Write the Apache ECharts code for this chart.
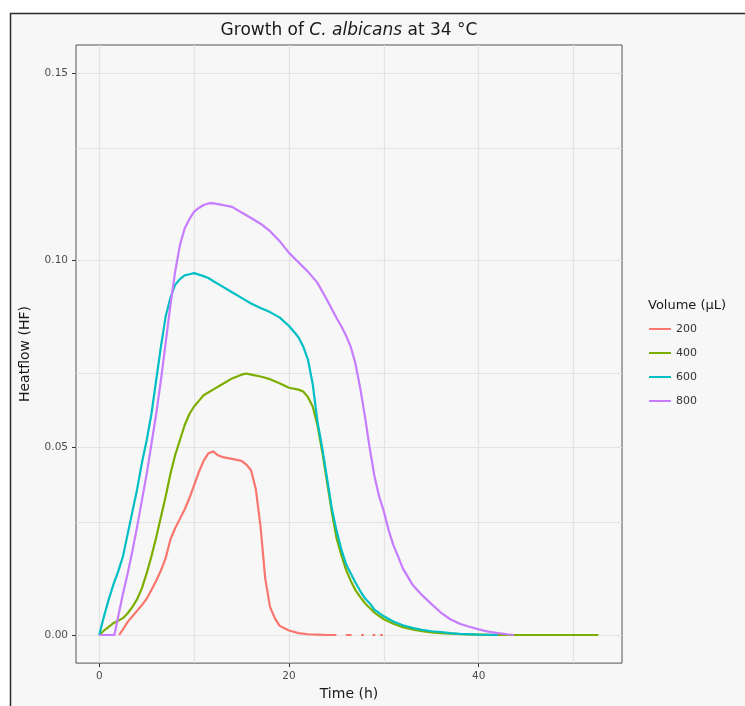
<!DOCTYPE html>
<html>
<head>
<meta charset="utf-8">
<script src="https://cdn.jsdelivr.net/npm/echarts@6/dist/echarts.min.js"></script>
<style>
html,body{margin:0;padding:0;background:#ffffff;}
#chart{width:745px;height:706px;}
</style>
</head>
<body>
<div id="chart"></div>
<script>
// ---- data ----
const volumes = ['200', '400', '600', '800'];
const colors = ['#F8766D', '#7CAE00', '#00BFC4', '#C77CFF'];

const xTickLabels = [0, 20, 40];
const yTickLabels = [0, 0.05, 0.10, 0.15];
const xGridValues = [0, 10, 20, 30, 40, 50];
const yGridValues = [0, 0.025, 0.05, 0.075, 0.10, 0.125, 0.15];

const t200 = [2.1, 2.5, 3.0, 3.5, 4.0, 4.5, 5.0, 5.5, 6.0, 6.5, 7.0, 7.5, 8.0, 8.5, 9.0, 9.5, 10, 10.5, 11, 11.5, 12, 12.5, 13, 14, 15, 15.5, 16, 16.5, 17, 17.5, 18, 18.5, 19, 19.5, 20, 21, 22, 23, 24, 25, 25.5, 26, 26.6, 26.8, 27.6, 27.9, 28.2, 28.8, 29.1, 29.3, 29.6, 29.9];
const hf200 = [0, 0.0015, 0.0035, 0.005, 0.0065, 0.008, 0.0097, 0.012, 0.0145, 0.0172, 0.0205, 0.0255, 0.0285, 0.031, 0.0335, 0.0365, 0.040, 0.0435, 0.0465, 0.0485, 0.049, 0.048, 0.0475, 0.047, 0.0465, 0.0455, 0.044, 0.039, 0.029, 0.015, 0.0075, 0.0045, 0.0025, 0.0018, 0.0012, 0.0005, 0.0002, 0.0001, 0, 0, null, 0, 0, null, 0, 0, null, 0, 0, null, 0, 0];

const t400 = [0, 0.5, 1.0, 1.5, 2.0, 2.5, 3.0, 3.5, 4.0, 4.5, 5.0, 5.5, 6.0, 6.5, 7.0, 7.5, 8.0, 8.5, 9.0, 9.5, 10, 10.5, 11, 12, 13, 14, 15, 15.5, 16, 17, 18, 19, 20, 21, 21.5, 22, 22.5, 23, 23.5, 24, 24.5, 25, 25.5, 26, 26.5, 27, 27.5, 28, 29, 30, 31, 32, 33, 34, 35, 36, 38, 40, 42, 52.6];
const hf400 = [0, 0.0012, 0.0022, 0.0032, 0.0038, 0.0045, 0.0058, 0.0075, 0.0096, 0.0125, 0.0165, 0.021, 0.026, 0.0315, 0.037, 0.043, 0.048, 0.052, 0.056, 0.059, 0.061, 0.0625, 0.064, 0.0655, 0.067, 0.0685, 0.0695, 0.0698, 0.0695, 0.069, 0.0683, 0.0672, 0.066, 0.0655, 0.065, 0.0635, 0.061, 0.056, 0.049, 0.041, 0.033, 0.026, 0.0215, 0.0175, 0.0145, 0.012, 0.0102, 0.0085, 0.006, 0.0042, 0.003, 0.0021, 0.0015, 0.001, 0.0007, 0.0005, 0.0002, 0.0001, 0, 0];

const t600 = [0, 0.5, 1.0, 1.5, 2.0, 2.5, 3.0, 3.5, 4.0, 4.5, 5.0, 5.5, 6.0, 6.5, 7.0, 7.5, 8.0, 8.5, 9.0, 9.5, 10, 10.5, 11, 11.5, 12, 13, 14, 15, 16, 17, 18, 19, 20, 20.5, 21, 21.5, 22, 22.5, 23, 23.5, 24, 24.5, 25, 25.5, 26, 26.5, 27, 27.5, 28, 28.5, 29, 30, 31, 32, 33, 34, 35, 36, 37, 38, 40, 42];
const hf600 = [0, 0.005, 0.0095, 0.0135, 0.017, 0.021, 0.027, 0.033, 0.039, 0.046, 0.052, 0.059, 0.068, 0.077, 0.085, 0.090, 0.0935, 0.095, 0.096, 0.0963, 0.0966, 0.0962, 0.0958, 0.0953, 0.0945, 0.093, 0.0915, 0.090, 0.0885, 0.0873, 0.0862, 0.0848, 0.0825, 0.081, 0.0795, 0.077, 0.0735, 0.067, 0.057, 0.050, 0.042, 0.034, 0.028, 0.023, 0.019, 0.0165, 0.014, 0.0118, 0.0098, 0.0085, 0.0068, 0.005, 0.0036, 0.0026, 0.0019, 0.0014, 0.001, 0.0008, 0.0005, 0.0003, 0.0001, 0];

const t800 = [0, 1.6, 2.0, 2.5, 3.0, 3.5, 4.0, 4.5, 5.0, 5.5, 6.0, 6.5, 7.0, 7.5, 8.0, 8.5, 9.0, 9.5, 10, 10.5, 11, 11.5, 12, 12.5, 13, 14, 15, 16, 17, 18, 19, 20, 21, 22, 23, 24, 25, 25.5, 26, 26.5, 27, 27.5, 28, 28.5, 29, 29.5, 30, 30.5, 31, 31.5, 32, 33, 34, 35, 36, 37, 38, 39, 40, 41, 42, 43, 43.7];
const hf800 = [0, 0, 0.005, 0.011, 0.0165, 0.0225, 0.029, 0.036, 0.043, 0.051, 0.059, 0.068, 0.078, 0.088, 0.097, 0.104, 0.1085, 0.111, 0.113, 0.114, 0.1148, 0.1152, 0.1153, 0.115, 0.1148, 0.1143, 0.1128, 0.1113, 0.1098, 0.1078, 0.1052, 0.102, 0.0995, 0.097, 0.094, 0.0895, 0.0847, 0.0825, 0.080, 0.077, 0.0725, 0.066, 0.0585, 0.050, 0.0425, 0.037, 0.033, 0.028, 0.024, 0.021, 0.0178, 0.0135, 0.0107, 0.0083, 0.006, 0.0042, 0.003, 0.0022, 0.0015, 0.0009, 0.0005, 0.0002, 0];

const seriesTimes = [t200, t400, t600, t800];
const seriesValues = [hf200, hf400, hf600, hf800];

// ---- chart ----
const FONT = 'DejaVu Sans';
const chart = echarts.init(document.getElementById('chart'), null, {renderer: 'canvas'});

function zip(ts, vs) {
  return ts.map((t, i) => [t, vs[i] === null ? '-' : vs[i]]);
}

const gridLines = [];
xGridValues.forEach(v => gridLines.push({xAxis: v}));
yGridValues.forEach(v => gridLines.push({yAxis: v}));

const series = [{
  name: 'grid',
  type: 'line',
  data: [],
  z: 1,
  silent: true,
  markLine: {
    silent: true,
    z: 1,
    symbol: ['none', 'none'],
    label: {show: false},
    emphasis: {disabled: true},
    animation: false,
    lineStyle: {color: '#e3e3e3', width: 1.2, type: 'solid'},
    data: gridLines
  }
}];
volumes.forEach((v, i) => {
  series.push({
    name: v,
    type: 'line',
    data: zip(seriesTimes[i], seriesValues[i]),
    showSymbol: false,
    symbol: 'none',
    connectNulls: false,
    z: 3 + i,
    lineStyle: {color: colors[i], width: 2.2},
    itemStyle: {color: colors[i]},
    emphasis: {disabled: true}
  });
});

const option = {
  animation: false,
  backgroundColor: '#ffffff',
  graphic: [
    {
      type: 'rect',
      z: -10,
      shape: {x: 10.5, y: 13.5, width: 900, height: 900},
      style: {fill: '#f7f7f7', stroke: '#2b2b2b', lineWidth: 1.5}
    },
    {
      type: 'text',
      left: 648,
      top: 299,
      style: {text: 'Volume (µL)', font: '13px "DejaVu Sans"', fill: '#1a1a1a'}
    }
  ],
  title: {
    text: '{n|Growth of }{i|C. albicans}{n| at 34 °C}',
    left: 349,
    top: 22,
    textAlign: 'center',
    padding: 0,
    textStyle: {
      fontWeight: 'normal',
      rich: {
        n: {fontFamily: FONT, fontSize: 17, fontWeight: 'normal', color: '#1a1a1a'},
        i: {fontFamily: FONT, fontSize: 17, fontWeight: 'normal', fontStyle: 'italic', color: '#1a1a1a'}
      }
    }
  },
  legend: {
    data: volumes,
    orient: 'vertical',
    left: 649,
    top: 317,
    padding: 0,
    itemGap: 0,
    itemWidth: 22,
    itemHeight: 2,
    icon: 'rect',
    selectedMode: false,
    textStyle: {fontFamily: FONT, fontSize: 11, color: '#333333', lineHeight: 24}
  },
  grid: {
    left: 76,
    right: 123,
    top: 45,
    bottom: 39,
    show: true,
    backgroundColor: '#f7f7f7',
    borderColor: '#555555',
    borderWidth: 1,
    containLabel: false
  },
  xAxis: {
    type: 'value',
    min: -2.45,
    max: 55.1,
    name: 'Time (h)',
    nameLocation: 'middle',
    nameGap: 23,
    nameTextStyle: {fontFamily: FONT, fontSize: 14, color: '#1a1a1a'},
    axisLine: {show: false, onZero: false},
    axisTick: {show: true, customValues: xTickLabels, length: 4, lineStyle: {color: '#333333', width: 1}},
    axisLabel: {customValues: xTickLabels, fontFamily: FONT, fontSize: 10.5, color: '#4d4d4d', margin: 8,
      formatter: v => String(v)},
    splitLine: {show: false}
  },
  yAxis: {
    type: 'value',
    min: -0.0075,
    max: 0.1575,
    name: 'Heatflow (HF)',
    nameLocation: 'middle',
    nameGap: 44,
    nameTextStyle: {fontFamily: FONT, fontSize: 14, color: '#1a1a1a'},
    axisLine: {show: false, onZero: false},
    axisTick: {show: true, customValues: yTickLabels, length: 4, lineStyle: {color: '#333333', width: 1}},
    axisLabel: {customValues: yTickLabels, fontFamily: FONT, fontSize: 10.5, color: '#4d4d4d', margin: 8,
      formatter: v => v.toFixed(2)},
    splitLine: {show: false}
  },
  series: series
};
chart.setOption(option);
</script>
</body>
</html>
